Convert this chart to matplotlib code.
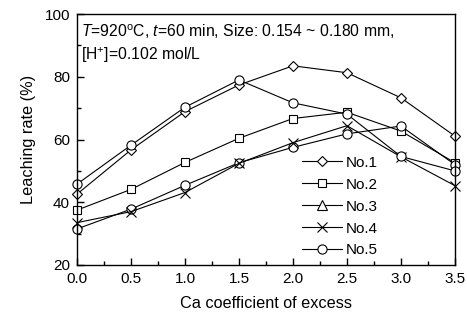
import matplotlib
matplotlib.use("Agg")
import matplotlib.pyplot as plt
from matplotlib.lines import Line2D
from matplotlib.ticker import MultipleLocator

plt.rcParams['font.family'] = ['Liberation Sans', 'DejaVu Sans']
plt.rcParams['mathtext.fontset'] = 'custom'
plt.rcParams['mathtext.rm'] = 'Liberation Sans'
plt.rcParams['mathtext.it'] = 'Liberation Sans:italic'

# data
ca = [0.0, 0.5, 1.0, 1.5, 2.0, 2.5, 3.0, 3.5]
no1 = [42.6, 56.7, 68.9, 77.4, 83.5, 81.3, 73.3, 61.1]
no2 = [37.5, 44.1, 52.7, 60.4, 66.7, 68.7, 62.7, 52.6]
no3 = [31.5, 37.8, 45.4, 52.6, 57.5, 61.8, 64.3, 52.0]
no4 = [33.5, 37.0, 43.1, 52.4, 59.0, 64.4, 54.5, 45.3]
no5 = [45.8, 58.2, 70.3, 79.0, 71.7, 68.1, 54.6, 50.0]
names = ['No.1', 'No.2', 'No.3', 'No.4', 'No.5']
legend_markers = ['D', 's', '^', 'x', 'o']
# the No.3 points show as circles in the figure
plot_markers = ['D', 's', 'o', 'x', 'o']
msize = {'D': 5.2, 's': 5.8, 'o': 6.6, 'x': 6.8, '^': 6.5}

fig = plt.figure(figsize=(4.67, 3.2), dpi=100)
ax = fig.add_axes([0.165, 0.172, 0.809, 0.784])

series = [no1, no2, no3, no4, no5]
for ys, m in zip(series, plot_markers):
    ax.plot(ca, ys, color='black', lw=0.8, marker=m, ms=msize[m],
            mfc='white', mec='black', mew=0.8, clip_on=False)

ax.set_xlim(0, 3.5)
ax.set_ylim(20, 100)
ax.xaxis.set_major_locator(MultipleLocator(0.5))
ax.xaxis.set_minor_locator(MultipleLocator(0.25))
ax.yaxis.set_major_locator(MultipleLocator(20))
ax.yaxis.set_minor_locator(MultipleLocator(10))
ax.tick_params(which='both', direction='in', labelsize=11, width=1)
ax.tick_params(which='major', length=5, pad=5)
ax.tick_params(which='minor', length=3)
for sp in ax.spines.values():
    sp.set_linewidth(1)
ax.set_xticklabels(['%.1f' % v for v in ax.get_xticks()])

ax.set_xlabel('Ca coefficient of excess', fontsize=11.7, labelpad=7)
ax.set_ylabel('Leaching rate (%)', fontsize=11.7, labelpad=6)

ax.text(0.01, 0.928, r'$\it{T}$=920$^\mathrm{o}$C, $\it{t}$=60 min, Size: 0.154 ~ 0.180 mm,',
        transform=ax.transAxes, fontsize=11.3, va='center')
ax.text(0.01, 0.835, r'[H$^{+}$]=0.102 mol/L', transform=ax.transAxes, fontsize=11.3, va='center')

handles = [Line2D([], [], color='black', lw=0.8, marker=m, ms=msize[m],
                  mfc='white', mec='black', mew=0.8) for m in legend_markers]
ax.legend(handles, names, loc='lower left', bbox_to_anchor=(0.56, -0.025), frameon=False,
          fontsize=11, handlelength=2.6, labelspacing=0.52, handletextpad=0.25)

fig.savefig('out.png', dpi=100)
